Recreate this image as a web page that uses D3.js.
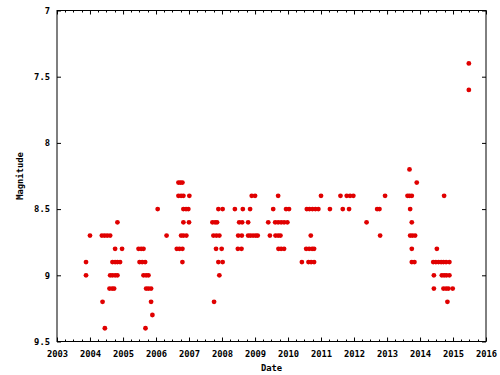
<!DOCTYPE html>
<html>
<head>
<meta charset="utf-8">
<script src="https://cdn.jsdelivr.net/npm/d3@7"></script>
<style>
  body { margin: 0; background: #fff; }
  svg text { font-family: "DejaVu Sans Mono", "Liberation Mono", monospace; font-weight: bold; font-size: 8.8px; fill: #000; }
</style>
</head>
<body>
<svg id="chart" width="500" height="375"></svg>
<script>

// observations: [decimal year, visual magnitude], one array per observing season
var season2004 = [
	[2003.88,8.9],[2003.88,9.0],[2004.00,8.7],
	[2004.36,8.7],[2004.44,8.7],[2004.52,8.7],[2004.61,8.7],
	[2004.38,9.2],[2004.45,9.4],
	[2004.59,9.1],[2004.67,9.1],[2004.73,9.1],
	[2004.61,9.0],[2004.68,9.0],[2004.76,9.0],[2004.83,9.0],
	[2004.68,8.9],[2004.76,8.9],[2004.83,8.9],[2004.91,8.9],
	[2004.76,8.8],[2004.97,8.8],
	[2004.83,8.6]
];
var season2005 = [
	[2005.47,8.8],[2005.55,8.8],[2005.62,8.8],
	[2005.50,8.9],[2005.58,8.9],[2005.67,8.9],
	[2005.62,9.0],[2005.70,9.0],[2005.77,9.0],
	[2005.70,9.1],[2005.77,9.1],[2005.85,9.1],
	[2005.85,9.2],[2005.89,9.3],[2005.68,9.4],
	[2006.05,8.5],[2006.32,8.7]
];
var season2006 = [
	[2006.68,8.3],[2006.74,8.3],[2006.80,8.3],
	[2006.68,8.4],[2006.76,8.4],[2006.83,8.4],[2007.01,8.4],
	[2006.83,8.5],[2006.91,8.5],[2006.98,8.5],
	[2006.83,8.6],[2007.00,8.6],
	[2006.76,8.7],[2006.83,8.7],[2006.92,8.7],
	[2006.63,8.8],[2006.71,8.8],[2006.80,8.8],
	[2006.80,8.9]
];
var season2007 = [
	[2007.89,8.5],[2008.02,8.5],
	[2007.71,8.6],[2007.79,8.6],[2007.85,8.6],
	[2007.74,8.7],[2007.83,8.7],[2007.92,8.7],
	[2007.82,8.8],[2007.99,8.8],
	[2007.89,8.9],[2008.02,8.9],
	[2007.92,9.0],[2007.76,9.2]
];
var season2008 = [
	[2008.90,8.4],[2009.00,8.4],
	[2008.39,8.5],[2008.63,8.5],[2008.85,8.5],
	[2008.52,8.6],[2008.61,8.6],[2008.79,8.6],
	[2008.49,8.7],[2008.60,8.7],[2008.79,8.7],[2008.86,8.7],[2008.94,8.7],[2009.02,8.7],[2009.08,8.7],
	[2008.48,8.8],[2008.59,8.8]
];
var season2009 = [
	[2009.70,8.4],
	[2009.55,8.5],[2009.94,8.5],[2010.03,8.5],
	[2009.40,8.6],[2009.61,8.6],[2009.70,8.6],[2009.79,8.6],[2009.88,8.6],[2009.98,8.6],
	[2009.45,8.7],[2009.62,8.7],[2009.70,8.7],[2009.77,8.7],
	[2009.71,8.8],[2009.79,8.8],[2009.88,8.8]
];
var season2010 = [
	[2010.42,8.9],[2010.62,8.9],[2010.70,8.9],[2010.79,8.9],
	[2010.55,8.8],[2010.64,8.8],[2010.73,8.8],[2010.79,8.8],
	[2010.69,8.7],
	[2010.57,8.5],[2010.65,8.5],[2010.74,8.5],[2010.83,8.5],[2010.92,8.5],
	[2011.00,8.4],[2011.27,8.5]
];
var season2011 = [
	[2011.59,8.4],[2011.78,8.4],[2011.88,8.4],[2011.98,8.4],
	[2011.66,8.5],[2011.85,8.5]
];
var season2012 = [
	[2012.38,8.6],[2012.70,8.5],[2012.77,8.5],[2012.79,8.7],[2012.94,8.4]
];
var season2013 = [
	[2013.68,8.2],[2013.90,8.3],
	[2013.62,8.4],[2013.68,8.4],[2013.75,8.4],
	[2013.70,8.5],[2013.75,8.6],
	[2013.70,8.7],[2013.77,8.7],[2013.85,8.7],
	[2013.75,8.8],
	[2013.75,8.9],[2013.83,8.9]
];
var season2014 = [
	[2014.73,8.4],[2014.51,8.8],
	[2014.40,8.9],[2014.48,8.9],[2014.56,8.9],[2014.64,8.9],[2014.71,8.9],[2014.79,8.9],[2014.89,8.9],
	[2014.42,9.0],[2014.66,9.0],[2014.73,9.0],[2014.80,9.0],[2014.89,9.0],
	[2014.42,9.1],[2014.71,9.1],[2014.79,9.1],[2014.86,9.1],[2014.99,9.1],
	[2014.83,9.2]
];
var season2015 = [
	[2015.48,7.4],[2015.48,7.6]
];

var yearRange = [2003, 2016];
var magRange = [7, 9.5];
var magTicks = [7, 7.5, 8, 8.5, 9, 9.5];

var box = {left: 57, top: 10.5, right: 486, bottom: 341.5};

function yearToDate(y){
	var yr = Math.floor(y);
	var start = new Date(yr, 0, 1), end = new Date(yr + 1, 0, 1);
	return new Date(+start + (y - yr) * (end - start));
}

var data = [].concat(season2004, season2005, season2006, season2007, season2008, season2009,
	season2010, season2011, season2012, season2013, season2014, season2015);

var svg = d3.select('#chart');

var x = d3.scaleTime()
	.domain([new Date(yearRange[0], 0, 1), new Date(yearRange[1], 0, 1)])
	.range([box.left, box.right]);

var y = d3.scaleLinear()
	.domain(magRange)
	.range([box.top, box.bottom]);

var yearTicks = x.ticks(d3.timeYear.every(1));
var quarterTicks = x.ticks(d3.timeMonth.every(3)).filter(function(d){ return d.getMonth() != 0; });

// bottom axis with labels, top axis mirrored without
svg.append('g')
	.attr('transform', 'translate(0,' + box.bottom + ')')
	.call(d3.axisBottom(x).tickValues(yearTicks).tickFormat(d3.timeFormat('%Y')).tickSize(-4).tickPadding(9))
	.call(function(g){ g.select('.domain').remove(); });

svg.append('g')
	.attr('transform', 'translate(0,' + box.top + ')')
	.call(d3.axisTop(x).tickValues(yearTicks).tickFormat('').tickSize(-4))
	.call(function(g){ g.select('.domain').remove(); });

// minor quarter ticks
svg.append('g').selectAll('line').data(quarterTicks).enter()
	.append('line')
	.attr('x1', function(d){ return Math.round(x(d)) + 0.5; })
	.attr('x2', function(d){ return Math.round(x(d)) + 0.5; })
	.attr('y1', box.bottom)
	.attr('y2', box.bottom - 2)
	.attr('stroke', '#000');

svg.append('g').selectAll('line').data(quarterTicks).enter()
	.append('line')
	.attr('x1', function(d){ return Math.round(x(d)) + 0.5; })
	.attr('x2', function(d){ return Math.round(x(d)) + 0.5; })
	.attr('y1', box.top)
	.attr('y2', box.top + 2)
	.attr('stroke', '#000');

svg.append('g')
	.attr('transform', 'translate(' + box.left + ',0)')
	.call(d3.axisLeft(y).tickValues(magTicks).tickFormat(d3.format('~g')).tickSize(-4).tickPadding(7))
	.call(function(g){ g.select('.domain').remove(); });

svg.append('g')
	.attr('transform', 'translate(' + box.right + ',0)')
	.call(d3.axisRight(y).tickValues(magTicks).tickFormat('').tickSize(-4))
	.call(function(g){ g.select('.domain').remove(); });

svg.selectAll('g').attr('font-family', null).attr('font-size', null);

// frame
svg.append('rect')
	.attr('x', box.left)
	.attr('y', box.top)
	.attr('width', box.right - box.left)
	.attr('height', box.bottom - box.top)
	.attr('fill', 'none')
	.attr('stroke', '#000');

svg.append('g').selectAll('circle').data(data).enter()
	.append('circle')
	.attr('cx', function(d){ return x(yearToDate(d[0])); })
	.attr('cy', function(d){ return y(d[1]); })
	.attr('r', 2.4)
	.attr('fill', '#e00000');

svg.append('text')
	.attr('x', (box.left + box.right) / 2)
	.attr('y', 371)
	.attr('text-anchor', 'middle')
	.text('Date');

svg.append('text')
	.attr('transform', 'translate(23,' + (box.top + box.bottom) / 2 + ') rotate(-90)')
	.attr('text-anchor', 'middle')
	.text('Magnitude');

</script>
</body>
</html>
